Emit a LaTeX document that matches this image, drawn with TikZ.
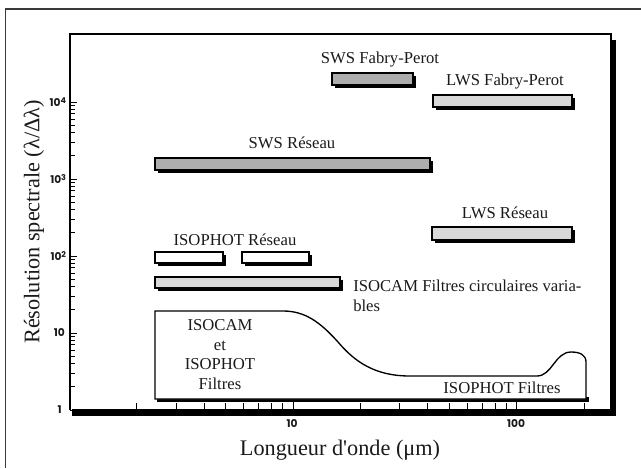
\documentclass[tikz,border=0pt]{standalone}
\usepackage{fontspec}
\newfontfamily\serifl{Liberation Serif}
\newfontfamily\tickf{Poppins}
\usetikzlibrary{shadows}
\definecolor{darkbar}{HTML}{ADADAD}
\definecolor{lightbar}{HTML}{D8D8D8}
\definecolor{framegray}{HTML}{3A3A3A}
\definecolor{inkc}{HTML}{1A1A1A}
\begin{document}
\begin{tikzpicture}[x=0.75pt,y=-0.75pt,
  bar/.style={draw=black, line width=0.9pt,
    drop shadow={shadow xshift=2.3pt, shadow yshift=-2.3pt, fill=black, opacity=1}},
  lbl/.style={font=\serifl\fontsize{12.5}{15}\selectfont, inner sep=0pt, text=inkc},
  axlbl/.style={font=\serifl\fontsize{16.7}{20}\selectfont, inner sep=0pt, text=inkc},
  tck/.style={font=\tickf\bfseries\fontsize{8}{10}\selectfont, inner sep=0pt, text=inkc},
  tickline/.style={line width=0.7pt},
]
\useasboundingbox (0,0) rectangle (641,468);
% outer frame
\draw[line width=0.8pt, framegray] (641,9) -- (5.5,9) -- (5.5,468);

% plot frame
\draw[line width=0.9pt] (70,410) -- (70,34) -- (611,34) -- (611,410);
\fill (611,40) rectangle (615.5,415.5);
\fill (72,409) rectangle (615.5,415.5);

% y ticks
\foreach \d in {0,...,4}{
  \pgfmathsetmacro\yy{410-77*\d}
  \draw[tickline] (70,\yy) -- (77,\yy);
}
\foreach \d in {0,...,3}{
  \foreach \m in {2,...,9}{
    \pgfmathsetmacro\yy{410-77*(\d+log10(\m))}
    \draw[tickline] (70,\yy) -- (75,\yy);
  }
}
% x ticks
\foreach \d in {0,1}{
  \pgfmathsetmacro\xx{69.5+223.6*(\d+1)}
  \draw[tickline] (\xx,409) -- (\xx,401);
  \foreach \m in {2,...,9}{
    \pgfmathsetmacro\xx{69.5+223.6*(\d+log10(\m))}
    \draw[tickline] (\xx,409) -- (\xx,403);
  }
}
\pgfmathsetmacro\xx{69.5+223.6*(2+log10(2))}
\draw[tickline] (\xx,409) -- (\xx,403);

% tick labels
\node[tck, anchor=east] (y1) at (62,410) {1};
\node[tck, anchor=east] (y10) at (65,333) {10};
\node[tck, anchor=east] (y100) at (67,256) {10\textsuperscript{2}};
\node[tck, anchor=east] (y1000) at (67,179) {10\textsuperscript{3}};
\node[tck, anchor=east] (y10000) at (67,102) {10\textsuperscript{4}};
\node[tck, anchor=north] (x10) at (292,419) {10};
\node[tck, anchor=north] (x100) at (516,419) {100};

% axis labels
\node[axlbl, rotate=90] (ylab) at (34,222) {Résolution spectrale (λ/Δλ)};
\node[axlbl] (xlab) at (340,450) {Longueur d'onde (μm)};

% filter region
\fill (157,397) rectangle (588.5,402);
\draw[line width=1pt, fill=white] (155,311) -- (283,311)
  .. controls (305,311) and (320,322) .. (338,342)
  .. controls (355,362) and (375,376) .. (410,376)
  -- (537,376)
  .. controls (552,376) and (555,352) .. (571,352)
  .. controls (580,352) and (586,355) .. (586,362)
  -- (586,399) -- (155,399) -- cycle;

% bars
\draw[bar, fill=darkbar] (332,73) rectangle (413,85);
\draw[bar, fill=lightbar] (433,95) rectangle (572,107);
\draw[bar, fill=darkbar] (155,158) rectangle (430,170);
\draw[bar, fill=lightbar] (432,227) rectangle (572,240);
\draw[bar, fill=white] (155,252) rectangle (223,263);
\draw[bar, fill=white] (242,252) rectangle (309,263);
\draw[bar, fill=lightbar] (155,277) rectangle (340,288);

% labels
\node[lbl] (swsfp) at (380,60) {SWS Fabry-Perot};
\node[lbl] (lwsfp) at (505,82) {LWS Fabry-Perot};
\node[lbl] (swsr) at (292,143) {SWS Réseau};
\node[lbl] (lwsr) at (505,213) {LWS Réseau};
\node[lbl] (isophotr) at (235,240) {ISOPHOT Réseau};
\node[lbl, align=left, anchor=west] (cvf) at (353,296) {ISOCAM Filtres circulaires varia-\\bles};
\node[lbl, align=center, font=\serifl\fontsize{12.5}{14.7}\selectfont] (camphot) at (220,354.5) {ISOCAM\\et\\ISOPHOT\\Filtres};
\node[lbl] (isophotf) at (502,388) {ISOPHOT Filtres};
\end{tikzpicture}
\end{document}
